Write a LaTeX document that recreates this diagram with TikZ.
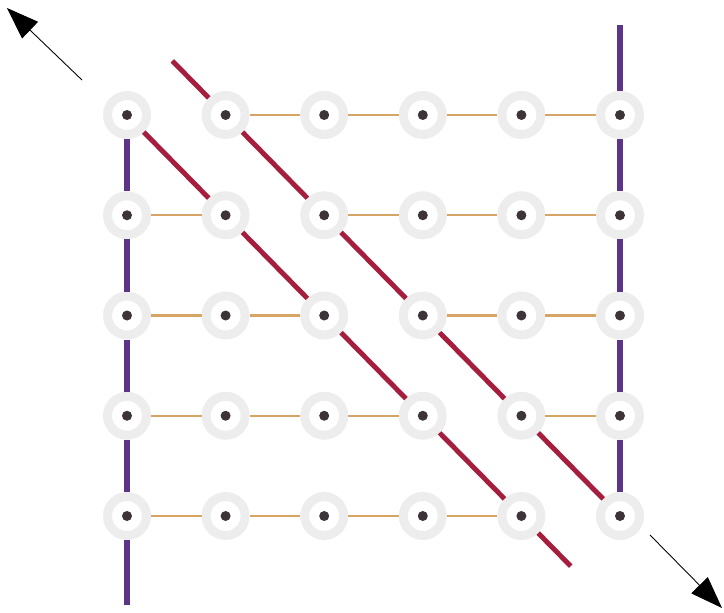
\documentclass[tikz,border=0pt]{standalone}
\usepackage{xcolor}
\usepackage{tikz}
\usetikzlibrary{calc, arrows.meta, positioning}
\definecolor{rungorange}{RGB}{214,164,100}
\definecolor{diagred}{RGB}{166,30,62}
\definecolor{railpurple}{RGB}{92,52,136}
\definecolor{sitedot}{RGB}{60,52,56}

\begin{document}
\begin{tikzpicture}[
        node distance = 2.005cm and 1.972cm,
        on grid,
        site/.style = {circle, minimum size=0.78cm, inner sep=0pt, fill=white, draw=gray!14, line width=0.18cm,
            path picture={\fill[sitedot] (path picture bounding box.center) circle (0.1cm);}},
        rung/.style = {draw=rungorange, line width=1.2pt},
        diag/.style = {draw=diagred, line width=2.8pt},
        rail/.style = {draw=railpurple, line width=3.3pt},
        arrow/.style = {draw=black, line width=0.5pt, -{Triangle[length=0.64cm, width=0.46cm]}}
    ]
        \useasboundingbox (-2.54,2.30) rectangle (11.94,-9.96);

        % Row 1
        \node (r1c1) [site] {};
        \node (r1c2) [site, right=of r1c1] {};
        \node (r1c3) [site, right=of r1c2] {};
        \node (r1c4) [site, right=of r1c3] {};
        \node (r1c5) [site, right=of r1c4] {};
        \node (r1c6) [site, right=of r1c5] {};

        % Row 2
        \node (r2c1) [site, below=of r1c1] {};
        \node (r2c2) [site, right=of r2c1] {};
        \node (r2c3) [site, right=of r2c2] {};
        \node (r2c4) [site, right=of r2c3] {};
        \node (r2c5) [site, right=of r2c4] {};
        \node (r2c6) [site, right=of r2c5] {};

        % Row 3
        \node (r3c1) [site, below=of r2c1] {};
        \node (r3c2) [site, right=of r3c1] {};
        \node (r3c3) [site, right=of r3c2] {};
        \node (r3c4) [site, right=of r3c3] {};
        \node (r3c5) [site, right=of r3c4] {};
        \node (r3c6) [site, right=of r3c5] {};

        % Row 4
        \node (r4c1) [site, below=of r3c1] {};
        \node (r4c2) [site, right=of r4c1] {};
        \node (r4c3) [site, right=of r4c2] {};
        \node (r4c4) [site, right=of r4c3] {};
        \node (r4c5) [site, right=of r4c4] {};
        \node (r4c6) [site, right=of r4c5] {};

        % Row 5
        \node (r5c1) [site, below=of r4c1] {};
        \node (r5c2) [site, right=of r5c1] {};
        \node (r5c3) [site, right=of r5c2] {};
        \node (r5c4) [site, right=of r5c3] {};
        \node (r5c5) [site, right=of r5c4] {};
        \node (r5c6) [site, right=of r5c5] {};

        % Free ends
        \coordinate (railbot) at ($(r4c1)!1.89!(r5c1)$);
        \coordinate (railtop) at ($(r2c6)!1.9!(r1c6)$);
        \coordinate (diagtop) at ($(r1c2)!-0.54!(r2c3)$);
        \coordinate (diagbot) at ($(r4c4)!1.5!(r5c5)$);
        \coordinate (nwtail) at (-0.90,0.70);
        \coordinate (nwtip) at (-2.40,2.14);
        \coordinate (setail) at (10.46,-8.40);
        \coordinate (setip) at (11.90,-9.86);

        % Horizontal rungs
        \draw [rung] (r1c2) -- (r1c3) -- (r1c4) -- (r1c5) -- (r1c6);
        \draw [rung] (r2c1) -- (r2c2);
        \draw [rung] (r2c3) -- (r2c4) -- (r2c5) -- (r2c6);
        \draw [rung] (r3c1) -- (r3c2) -- (r3c3);
        \draw [rung] (r3c4) -- (r3c5) -- (r3c6);
        \draw [rung] (r4c1) -- (r4c2) -- (r4c3) -- (r4c4);
        \draw [rung] (r4c5) -- (r4c6);
        \draw [rung] (r5c1) -- (r5c2) -- (r5c3) -- (r5c4) -- (r5c5);

        % Diagonals
        \draw [diag] (r1c1) -- (r2c2) -- (r3c3) -- (r4c4) -- (r5c5) -- (diagbot);
        \draw [diag] (diagtop) -- (r1c2) -- (r2c3) -- (r3c4) -- (r4c5) -- (r5c6);

        % Side rails
        \draw [rail] (r1c1) -- (r2c1) -- (r3c1) -- (r4c1) -- (r5c1) -- (railbot);
        \draw [rail] (railtop) -- (r1c6) -- (r2c6) -- (r3c6) -- (r4c6) -- (r5c6);

        % Arrows
        \draw [arrow] (nwtail) -- (nwtip);
        \draw [arrow] (setail) -- (setip);

    \end{tikzpicture}
\end{document}
